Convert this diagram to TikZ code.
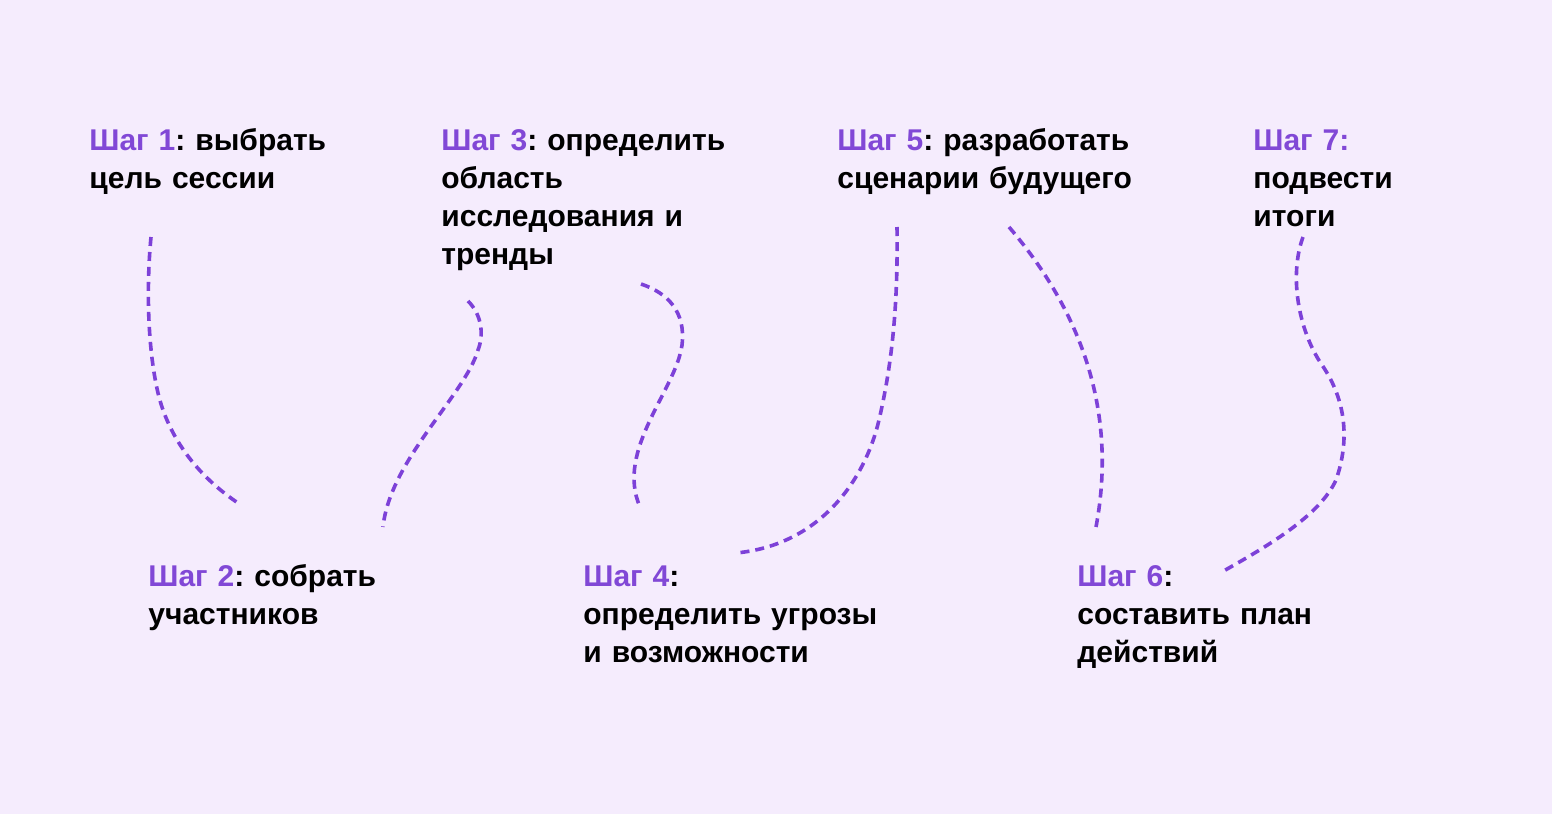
\documentclass[tikz,border=0pt]{standalone}
\usepackage{fontspec}
\setmainfont{Liberation Sans}
\usepackage{tikz}
\frenchspacing

\definecolor{pagebg}{HTML}{F5ECFD}
\definecolor{stepviolet}{HTML}{8148D6}
\definecolor{trailviolet}{HTML}{7D41D8}

\tikzset{
  stepnote/.style = {anchor = base west, inner sep = 0pt, align = left, text width = 190pt,
                     font = \fontsize{15}{19}\selectfont\bfseries},
  trail/.style = {trailviolet, line width = 1.8pt, dash pattern = on 4.5pt off 3pt}
}
\newcommand{\stepno}[1]{{\color{stepviolet}#1}}

\begin{document}
\begin{tikzpicture}[x = 0.5pt, y = -0.5pt]
  \fill [pagebg] (0, 0) rectangle (1552, 814);
  \useasboundingbox (0, 0) rectangle (1552, 814);

  \node [stepnote] (s1) at (89, 150) {\stepno{Шаг 1}: выбрать\\цель сессии};
  \node [stepnote] (s2) at (148, 586) {\stepno{Шаг 2}: собрать\\участников};
  \node [stepnote] (s3) at (441, 150) {\stepno{Шаг 3}: определить\\область\\исследования и\\тренды};
  \node [stepnote] (s4) at (583, 586) {\stepno{Шаг 4}:\\определить угрозы\\и возможности};
  \node [stepnote] (s5) at (837, 150) {\stepno{Шаг 5}: разработать\\сценарии будущего};
  \node [stepnote] (s6) at (1077, 586) {\stepno{Шаг 6}:\\составить план\\действий};
  \node [stepnote] (s7) at (1253, 150) {\stepno{Шаг 7:}\\подвести\\итоги};

  \coordinate (from1) at (151, 237);
  \coordinate (mid1) at (158, 393);
  \coordinate (to1) at (241, 505);
  \draw [trail] (from1) .. controls (146, 290) and (148, 350) .. (mid1)
                        .. controls (168, 435) and (195, 475) .. (to1);

  \coordinate (from2) at (468, 301);
  \coordinate (mid2) at (478, 350);
  \coordinate (to2) at (383, 527);
  \draw [trail] (from2) .. controls (482, 315) and (484, 335) .. (mid2)
                        .. controls (465, 395) and (390, 460) .. (to2);

  \coordinate (from3) at (641, 284);
  \coordinate (mid3) at (682, 345);
  \coordinate (to3) at (640, 507);
  \draw [trail] (from3) .. controls (668, 293) and (686, 312) .. (mid3)
                        .. controls (676, 390) and (615, 450) .. (to3);

  \coordinate (from4) at (897, 227);
  \coordinate (mid4) at (879, 420);
  \coordinate (to4) at (736, 553);
  \draw [trail] (from4) .. controls (898, 300) and (893, 360) .. (mid4)
                        .. controls (865, 480) and (820, 545) .. (to4);

  \coordinate (from5) at (1009, 227);
  \coordinate (to5) at (1096, 527);
  \draw [trail] (from5) .. controls (1080, 310) and (1118, 410) .. (to5);

  \coordinate (from6) at (1303, 237);
  \coordinate (mid6) at (1322, 365);
  \coordinate (bend6) at (1336, 480);
  \coordinate (to6) at (1220, 573);
  \draw [trail] (from6) .. controls (1289, 275) and (1298, 330) .. (mid6)
                        .. controls (1346, 400) and (1350, 440) .. (bend6)
                        .. controls (1320, 515) and (1270, 545) .. (to6);
\end{tikzpicture}
\end{document}
